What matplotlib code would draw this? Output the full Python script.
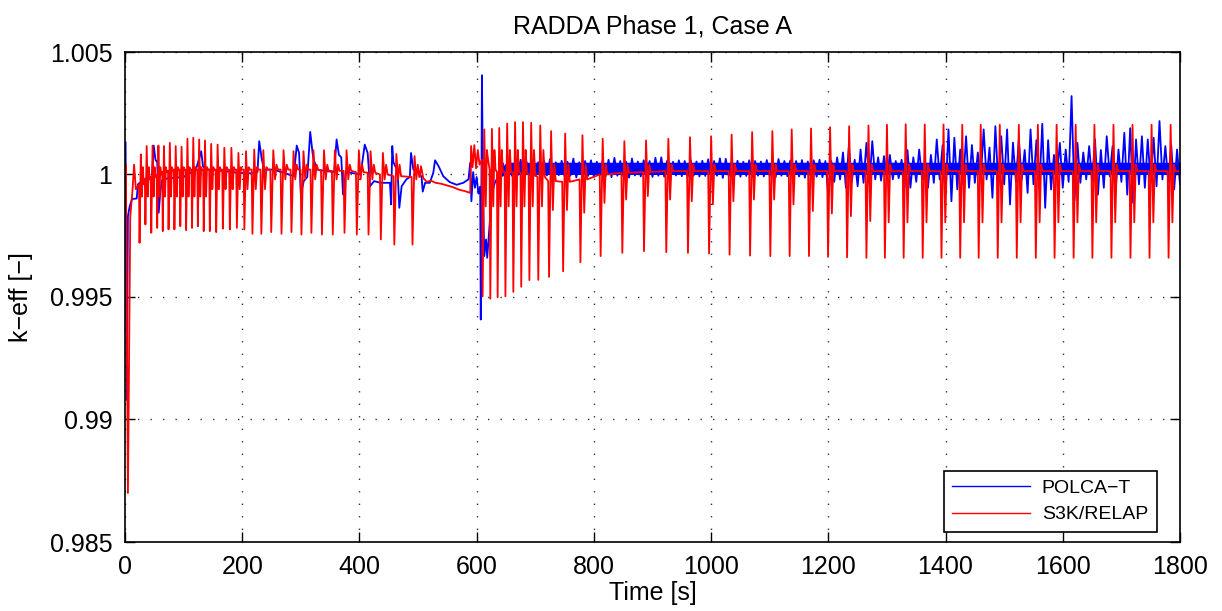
import numpy as np
import matplotlib.pyplot as plt
from matplotlib.lines import Line2D

plt.rcParams['font.family'] = ['Liberation Sans', 'DejaVu Sans']

# all k-eff values are stored as deviation from 1, in units of 1e-4
# POLCA-T, start-up part (time [s], deviation)
blue_t = [0, 1, 3, 5, 8, 12, 20, 22, 29, 37,
          46, 49, 52, 55, 57.5, 60, 63, 72, 83, 100,
          112, 121, 130, 133, 137, 146, 169, 192, 215, 226,
          229, 233, 237, 250, 260, 271, 288, 293, 297, 300,
          305, 311, 316, 320, 322, 328, 340, 357, 361, 365,
          369, 372, 377, 385, 402, 409, 414, 418, 425, 436,
          452, 454, 456, 458, 461, 465, 468, 472, 480, 486,
          488, 492, 500, 506, 508, 512, 520, 526, 529, 535,
          543, 554, 566, 577, 586, 589, 591, 594, 597, 600,
          603, 606, 607, 609, 611, 613, 616, 618, 622, 626,
          631, 640]
blue_d = [13, 13, -92, -17, -13, -10, -9.8, -4, -2.7, -1.4,
          -1, 11.8, 6, 5, -15.6, -7.8, -2.4, -1.6, -1.4, -1.0,
          0.7, 2, 9.5, 3.4, 2, 2, 1.4, 0.7, 0.5, 1,
          13.6, 6.8, 2, 2, 1.5, 0.7, -0.7, 11.8, 8.8, -8.2,
          -2.7, -1, 17.4, 8.8, 6, 2, 1.5, 1, 14.3, 8,
          7, -8.2, 1.4, 0.7, 0, 12.2, 8.8, -4.8, -2.7, -3.4,
          -3.4, -12.2, 11.6, 5, 3.4, 2, -13.6, -4.8, -2.0, -1,
          8.8, 2, 1.4, -1, -7, -3.4, -3.4, 0.7, 5.8, 3.4,
          -0.7, -3.1, -4.2, -3.4, -2, 4.8, -10.9, 1, -5.4, -1,
          -7.8, -5, -59.2, 40.5, -10.2, -33.3, -26.5, -34, -21, -7.5,
          -3.4, 0.7]

# POLCA-T noisy part: upper tips every 10 s from 645 s, lower tips 5 s later
blue_hi_t0 = 645
blue_hi = [4.5, 5.5, 5.0, 6.0, 5.2, 5.8, 5.0, 5.5, 6.2, 5.0,
           5.6, 5.2, 6.5, 5.0, 5.5, 5.8, 5.2, 5.6, 6.0, 6.8,
           5.5, 5.2, 6.5, 5.3, 5.8, 5.5, 6.8, 7.0, 5.6, 5.2,
           5.8, 5.5, 6.0, 5.3, 5.6, 6.2, 5.5, 6.6, 6.4, 5.4,
           5.6, 5.2, 5.8, 5.5, 5.3, 5.9, 5.4, 6.3, 5.5, 5.7,
           5.5, 5.9, 5.3, 5.8, 6.0, 5.5, 5.5, 7.0, 9.0, 11.6,
           6.0, 10.2, 12.9, 13.6, 7.0, 7.5, 8.0, 5.5, 6.0, 10.0,
           7.0, 10.2, 5.0, 8.0, 14.3, 12.0, 18.4, 15.0, 10.2, 15.6,
           12.0, 9.0, 18.4, 11.0, 19.7, 15.6, 18.4, 13.0, 14.3, 10.0,
           18.4, 14.0, 20.7, 14.0, 8.0, 12.9, 10.2, 32.0, 12.9, 9.0,
           11.6, 14.3, 10.0, 15.6, 11.6, 10.2, 17.0, 18.9, 14.3, 15.6,
           14.3, 15.0, 21.8, 11.6, 12.0, 10.2]
blue_lo = [0, -0.5, -0.3, -0.8, -0.2, -0.6, -1, -0.4, -0.7, -0.3,
           -0.8, -0.5, -1.2, -0.4, -0.6, -0.9, -0.3, -0.7, -1.1, -0.5,
           -0.6, -1.3, -0.4, -0.8, -0.6, -1, -0.5, -0.9, -1.2, -0.4,
           -0.7, -1, -0.5, -0.8, -0.6, -1.1, -0.5, -1.4, -0.7, -0.5,
           -0.9, -0.6, -1, -0.5, -0.8, -0.6, -1.2, -0.5, -0.7, -1,
           -0.8, -1.3, -0.6, -0.9, -1.1, -8.8, -3, -2, -5.4, -3,
           -4.8, -3.4, -4, -2, -2.5, -0.8, -2, -1.5, -5.4, -5.4,
           -3, -2, -5.4, -3.4, -2, -8.2, -10.9, -6.1, -4, -5.4,
           -3.4, -2, -2, -9.5, -4.8, -4, -12.2, -3, -2, -7.5,
           -4, -6, -13.6, -6.1, -0.7, -5.4, -3, -10.6, -3.4, -2,
           -2.7, -8.2, -5.4, -0.7, -7.5, -3, -8.2, -11.6, -4, -5.4,
           -3.4, -4.8, -2, -3, -6.1, -4]
# dense core of the POLCA-T noise band
blue_core_t = [640, 650, 1800]
blue_core_lo = [-1.0, 0.0, 0.0]
blue_core_hi = [1.5, 5.0, 5.0]

# S3K/RELAP start-up drop and the quiet stretch before 600 s
red_init_t = [0, 1.5, 5, 9, 12.5, 15.5, 18.5]
red_init_d = [0, 4, -130, -17, -7.5, 4, -6]
red_mid_t = [503, 505, 509, 515, 522, 530, 540, 550, 560, 570,
             580, 589, 590.5, 593, 596, 599, 602, 605]
red_mid_d = [-1, 3.4, -1.5, -3, -2.5, -3.4, -3.8, -4.5, -5.2, -6.2,
             -6.8, -7.5, 11.6, 3, 12, 2.5, 10, 4]

# S3K/RELAP periodic spikes: peak time, peak, main dip, 2nd dip, 2nd bump, level
red_spk_t = [27, 37, 47, 57, 66.5, 76.5, 86.5, 96.5, 106.5, 116.5,
             126.5, 136.5, 147, 158, 169.5, 181.5, 193.5, 206.5, 220.5, 236,
             253, 270.5, 287.5, 304.5, 321.5, 339.5, 358, 378, 399, 419,
             440, 463, 494,
             613, 626, 638.5, 652, 665.5, 679, 693, 708.5, 727, 751,
             780.5, 815, 852, 889, 927, 964, 1000, 1035, 1070, 1104.5,
             1137.5, 1170.5, 1203, 1235.5, 1268.5, 1300, 1332, 1364.5, 1396.5, 1428.5,
             1460, 1492.5, 1525, 1557.5, 1589.5, 1622, 1654, 1686.5, 1719, 1751.5, 1784]
red_spk_hi = [8.2, 11.6, 11.8, 11.8, 11.6, 12.9, 11.6, 11.3, 14.6, 15.0,
              14.3, 13.9, 12.5, 12.2, 10.9, 10.9, 8.8, 9.5, 10.2, 9.9,
              9.9, 9.9, 9.5, 9.5, 9.9, 9.9, 9.9, 9.9, 9.9, 9.5,
              8.8, 8.4, 7.5,
              18.4, 18.6, 19.0, 20.8, 21.4, 21.4, 21.1, 20.0, 17.7, 16.7,
              16.0, 14.6, 13.6, 13.9, 14.6, 15.2, 15.6, 16.3, 17.3, 17.7,
              18.4, 18.8, 19.3, 19.7, 20.0, 20.3, 20.5, 20.4, 20.4, 20.3,
              20.3, 20.3, 20.3, 20.3, 20.3, 20.3, 20.3, 20.3, 20.3, 20.3, 20.3]
red_spk_lo = [-27.9, -20.4, -23.8, -21.8, -23.1, -22.4, -22.4, -21.1, -22.7, -21.8,
              -21.1, -23.1, -23.1, -23.5, -22.1, -22.4, -21.8, -22.4, -24.2, -24.2,
              -23.5, -24.2, -23.5, -24.5, -23.8, -24.5, -24.5, -23.8, -24.5, -24.5,
              -26.5, -28.6, -28.6,
              -49.7, -50.7, -50.1, -49.7, -47.9, -45.8, -43.1, -43.0, -41.8, -39.5,
              -35.8, -33.3, -32.0, -31.3, -31.7, -32.0, -32.2, -32.7, -33.1, -33.3,
              -33.3, -33.3, -33.6, -33.8, -34.0, -34.0, -34.0, -34.0, -34.0, -34.0,
              -34.0, -34.0, -34.0, -34.0, -34.0, -34.0, -34.0, -34.0, -34.0, -34.0, -34.0]
red_spk_lo2 = ([-9] * 12 + [-6] * 8 + [-2] * 13 + [-13] * 8
               + [-14.5, -14.5, -15.6, -11.6, -10.2, -8.8, -10.2, -10.9, -12.2,
                  -10.9, -10.2, -10.2, -12.2, -14.9, -15.9, -17, -19, -19.5]
               + [-19.5] * 15)
red_spk_hi2 = [3] * 20 + [4] * 13 + [10] * 8 + [4] * 33
red_spk_base = ([-4, -2, -1, 0, 1, 1.5, 2, 2, 2, 2,
                 2, 2, 2, 2, 2, 2, 2, 2, 2, 2,
                 2, 2, 2, 2, 2, 1.5, 1.5, 1.5, 1, 0.7,
                 0, -0.7, -1]
                + [6, 2, 1, 1, 1, 0.7, 0, -1, -2.7, -3, -2, 0, 0.7, 1]
                + [1.4] * 27)

# red polyline: each spike drawn as level -> dip -> peak -> 2nd dip -> bump -> level
offs = np.array([-5.0, -3.5, 0.0, 3.0, 5.5, 8.0])
pts = list(zip(red_init_t, red_init_d)) + list(zip(red_mid_t, red_mid_d))
n = len(red_spk_t)
for i in range(n):
    t = red_spk_t[i]
    gaps = []
    if i > 0:
        gaps.append(t - red_spk_t[i - 1])
    if i < n - 1:
        gaps.append(red_spk_t[i + 1] - t)
    s = min(1.0, min(gaps) / 16.0)
    vals = [red_spk_base[i], red_spk_lo[i], red_spk_hi[i],
            red_spk_lo2[i], red_spk_hi2[i], red_spk_base[i]]
    pts += list(zip(t + s * offs, vals))
pts.append((1800, 1.4))
pts.sort(key=lambda p: p[0])
red_t = np.array([p[0] for p in pts])
red_k = 1 + 1e-4 * np.array([p[1] for p in pts])

# blue polyline: start-up part followed by the noise tips
tips_t, tips_d = [], []
for i in range(len(blue_hi)):
    tips_t += [blue_hi_t0 + 10 * i, blue_hi_t0 + 10 * i + 5]
    tips_d += [blue_hi[i], blue_lo[i]]
b_t = np.array(list(blue_t) + tips_t)
b_k = 1 + 1e-4 * np.array(list(blue_d) + tips_d)

blue = '#0000ff'
red = '#ff0000'

fig = plt.figure(figsize=(12.22, 6.11), dpi=100)
ax = fig.add_axes([125 / 1222, 1 - 542 / 611, 1055 / 1222, 490 / 611])

ax.fill_between(blue_core_t, 1 + 1e-4 * np.array(blue_core_lo),
                1 + 1e-4 * np.array(blue_core_hi), color=blue, lw=0)
ax.plot(b_t, b_k, color=blue, lw=1.3)
ax.plot(red_t, red_k, color=red, lw=1.3)

ax.set_xlim(0, 1800)
ax.set_ylim(0.985, 1.005)
ax.set_xticks(np.arange(0, 1801, 200))
ax.set_yticks([0.985, 0.99, 0.995, 1, 1.005])
ax.set_yticklabels(['0.985', '0.99', '0.995', '1', '1.005'])
ax.tick_params(direction='in', top=True, right=True, length=7, width=1,
               labelsize=18, pad=9)
ax.grid(True, color='#333333', linestyle=(0, (1, 8)), linewidth=1.0)
for sp in ax.spines.values():
    sp.set_linewidth(1.2)

ax.set_title('RADDA Phase 1, Case A', fontsize=18, pad=13)
ax.set_xlabel('Time [s]', fontsize=18, labelpad=2)
ax.set_ylabel('k\u2212eff [\u2212]', fontsize=18, labelpad=12)

handles = [Line2D([], [], color=blue, lw=1.0), Line2D([], [], color=red, lw=1.0)]
leg = ax.legend(handles, ['POLCA\u2212T', 'S3K/RELAP'], loc='lower right',
                bbox_to_anchor=(0.978, 0.02), fontsize=14, fancybox=False,
                framealpha=1, edgecolor='k', handlelength=4.0,
                handletextpad=0.6, labelspacing=0.45, borderpad=0.45,
                borderaxespad=0.0)
leg.get_frame().set_linewidth(1.2)

fig.savefig('out.png', dpi=100)
